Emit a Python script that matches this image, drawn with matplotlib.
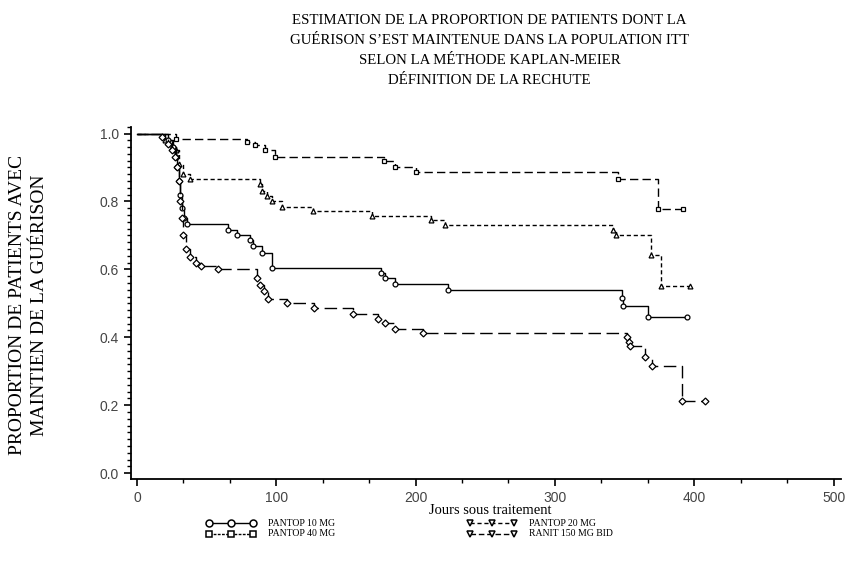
import numpy as np
import matplotlib
matplotlib.use('Agg')
import matplotlib.pyplot as plt
from matplotlib.ticker import MultipleLocator

# Kaplan-Meier step curves (day, proportion)
p40_t = [0, 28, 79, 85, 92, 99, 177, 185, 200, 345, 374, 392]
p40_s = [1.0, 0.985, 0.975, 0.965, 0.95, 0.93, 0.918, 0.90, 0.888, 0.867, 0.779, 0.779]

p20_t = [0, 20, 25, 28, 30, 33, 38, 88, 90, 93, 97, 104, 126, 169, 211, 221, 342, 344, 369, 376, 397]
p20_s = [1.0, 0.98, 0.96, 0.95, 0.91, 0.88, 0.867, 0.85, 0.83, 0.815, 0.80, 0.785, 0.773, 0.758,
         0.746, 0.731, 0.716, 0.70, 0.643, 0.55, 0.55]

p10_t = [0, 22, 26, 28, 29, 30, 31, 32, 34, 36, 65, 72, 81, 83, 90, 97, 175, 178, 185, 223, 348, 349, 367, 395]
p10_s = [1.0, 0.98, 0.96, 0.93, 0.90, 0.86, 0.82, 0.78, 0.75, 0.735, 0.717, 0.70, 0.685, 0.67,
         0.647, 0.605, 0.59, 0.575, 0.558, 0.54, 0.517, 0.493, 0.46, 0.46]

ran_t = [0, 18, 22, 25, 27, 29, 30, 31, 32, 33, 35, 38, 42, 46, 58, 86, 88, 91, 94, 108, 127, 155,
         173, 178, 185, 205, 352, 353, 354, 365, 370, 391, 408]
ran_s = [1.0, 0.99, 0.97, 0.95, 0.93, 0.90, 0.86, 0.80, 0.75, 0.70, 0.66, 0.635, 0.62, 0.61, 0.60,
         0.575, 0.555, 0.535, 0.513, 0.50, 0.487, 0.47, 0.455, 0.442, 0.425, 0.413, 0.40, 0.385,
         0.375, 0.342, 0.316, 0.212, 0.212]

title_lines = ["ESTIMATION DE LA PROPORTION DE PATIENTS DONT LA",
               "GUÉRISON S\u2019EST MAINTENUE DANS LA POPULATION ITT",
               "SELON LA MÉTHODE KAPLAN-MEIER",
               "DÉFINITION DE LA RECHUTE"]

serif = ['Liberation Serif', 'DejaVu Serif']
sans = ['Liberation Sans', 'DejaVu Sans']

fig = plt.figure(figsize=(8.59, 5.76), dpi=100)
ax = fig.add_axes([0.1525, 0.168, 0.826, 0.612])

series = [
    (p40_t, p40_s, (0, (6, 3)), 's'),
    (p20_t, p20_s, (0, (3, 2)), '^'),
    (p10_t, p10_s, '-', 'o'),
    (ran_t, ran_s, (0, (9, 4)), 'D'),
]
for t, s, ls, mk in series:
    ax.step(t, s, where='post', color='k', lw=1.0, ls=ls)
    ax.plot(t[1:], s[1:], ls='none', marker=mk, ms=3.5, mfc='white', mec='k', mew=0.9)

ax.set_xlim(-4.3, 505)
ax.set_ylim(-0.018, 1.02)
ax.xaxis.set_major_locator(MultipleLocator(100))
ax.xaxis.set_minor_locator(MultipleLocator(100 / 3))
ax.yaxis.set_major_locator(MultipleLocator(0.2))
ax.yaxis.set_minor_locator(MultipleLocator(0.02))
ax.yaxis.set_major_formatter(matplotlib.ticker.FormatStrFormatter('%.1f'))
for side in ('top', 'right'):
    ax.spines[side].set_visible(False)
for side in ('left', 'bottom'):
    ax.spines[side].set_linewidth(1.3)
ax.tick_params(which='major', length=5, width=1.2, labelsize=10, color='k')
ax.tick_params(which='minor', length=3, width=1.0)
for lab in ax.get_xticklabels() + ax.get_yticklabels():
    lab.set_family(sans)
    lab.set_color('#444444')

for i, line in enumerate(title_lines):
    fig.text(0.57, 1 - (20 + 20 * i) / 576, line, ha='center', va='center', family=serif, fontsize=10.7)

fig.text(18 / 859, 1 - 305 / 576, "PROPORTION DE PATIENTS AVEC", rotation=90, ha='center', va='center',
         family=serif, fontsize=14)
fig.text(40 / 859, 1 - 305 / 576, "MAINTIEN DE LA GUÉRISON", rotation=90, ha='center', va='center',
         family=serif, fontsize=14)
fig.text(490 / 859, 1 - 510 / 576, "Jours sous traitement", ha='center', va='center', family=serif,
         fontsize=10.5)

# legend drawn as in the reference (two columns, overprinted entry)
leg = [
    (209, 523, '-', 'o', "PANTOP 10 MG"),
    (209, 534, (0, (2, 1)), 's', "PANTOP 40 MG"),
    (470, 523, (0, (3, 2)), 'v', "PANTOP 20 MG"),
    (470, 534, (0, (4, 2)), 'v', "RANIT 150 MG BID"),
]
for x0, y0, ls, mk, txt in leg:
    xs = np.array([x0, x0 + 22, x0 + 44]) / 859
    ys = np.full(3, 1 - y0 / 576)
    fig.add_artist(plt.Line2D(xs, ys, color='k', lw=1.0, ls=ls, marker=mk, ms=5,
                              mfc='white', mec='k', mew=1.1))
    fig.text((x0 + 59) / 859, 1 - y0 / 576, txt, ha='left', va='center', family=serif, fontsize=7)

fig.savefig('out.png', dpi=100)
